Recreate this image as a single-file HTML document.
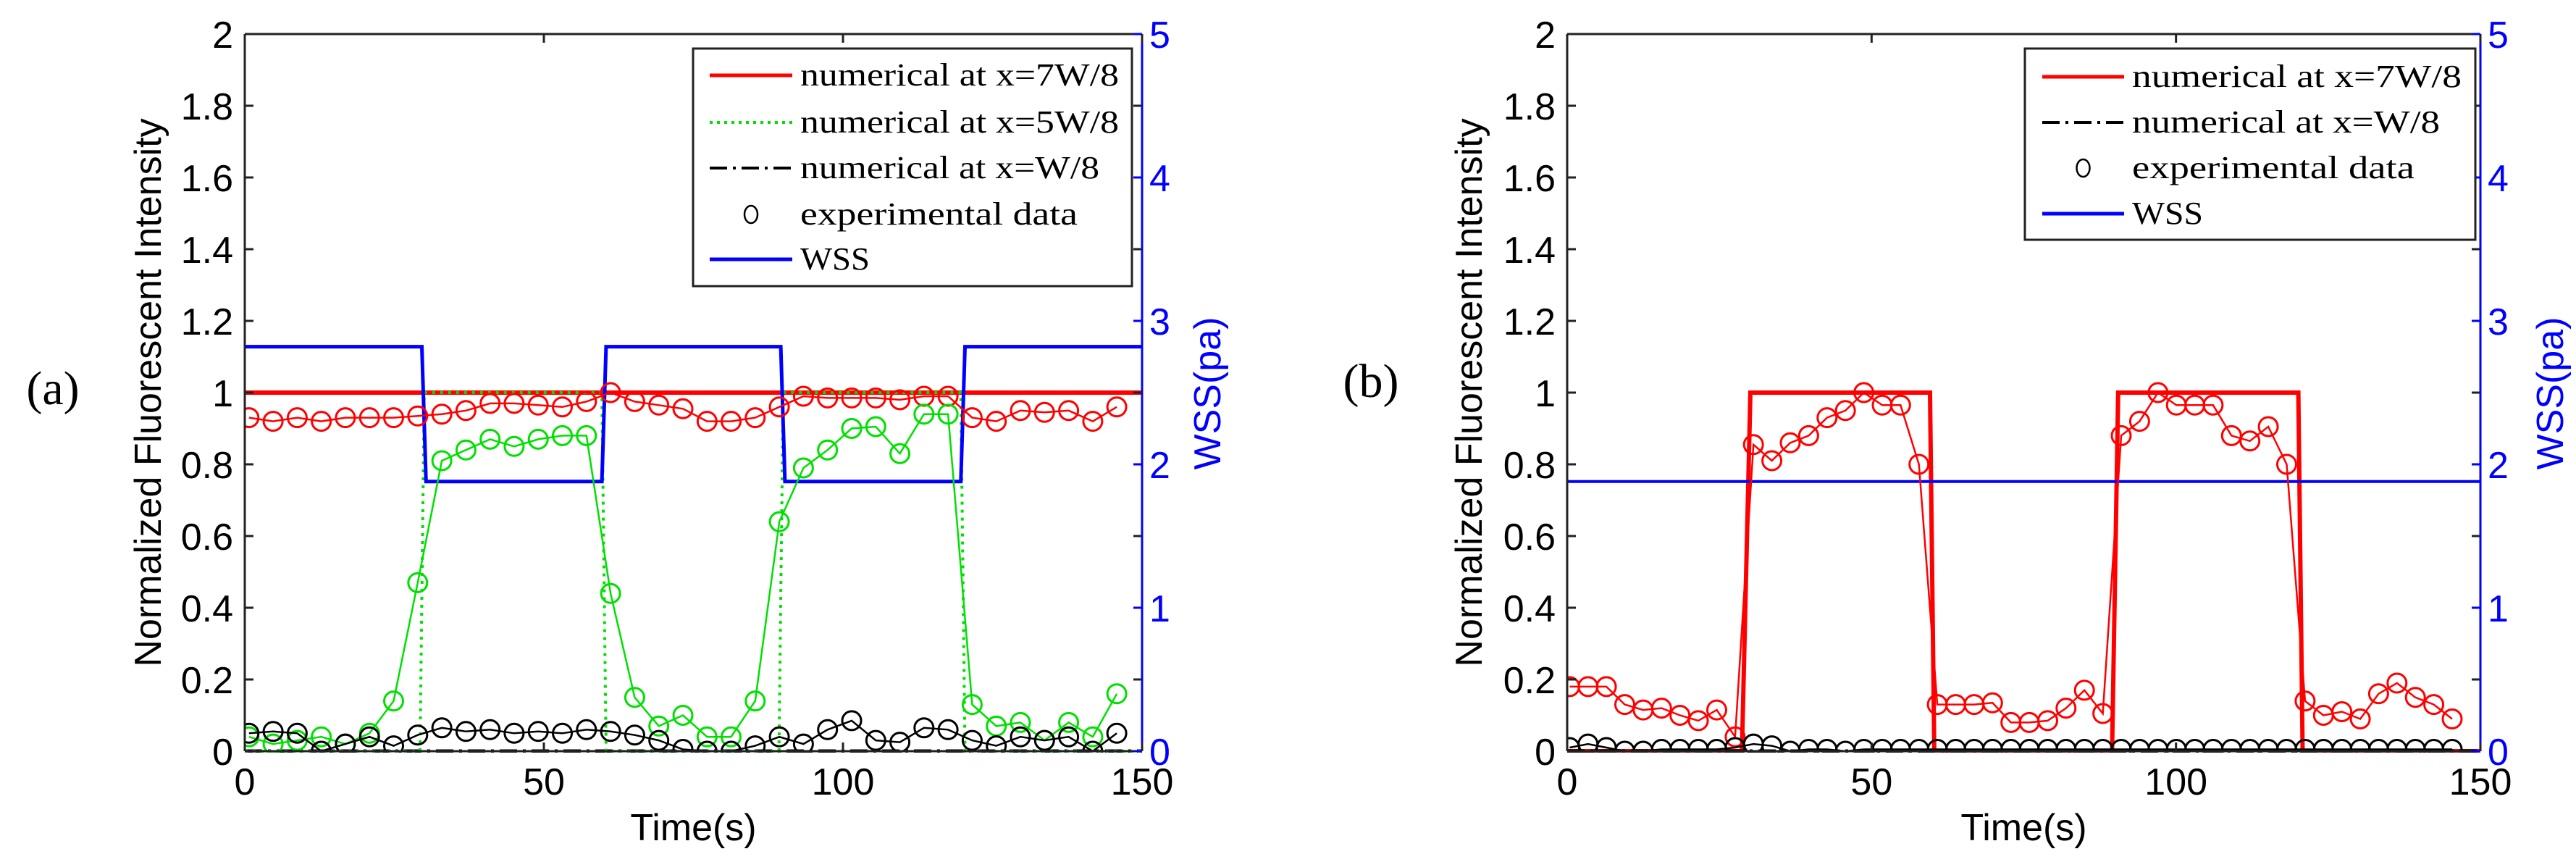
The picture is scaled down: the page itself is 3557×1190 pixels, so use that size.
<!DOCTYPE html>
<html><head><meta charset="utf-8"><style>
html,body{margin:0;padding:0;background:#fff}
svg{display:block}
text{font-family:"Liberation Sans",Arial,sans-serif}
.serif{font-family:"Liberation Serif","Times New Roman",serif}
</style></head><body>
<svg id="fig" width="3557" height="1190" viewBox="0 0 3557 1190" xmlns="http://www.w3.org/2000/svg"></svg>
<script>
// ---------- data ----------
const xTicks = [0, 50, 100, 150];
const yTicks = [0, 0.2, 0.4, 0.6, 0.8, 1, 1.2, 1.4, 1.6, 1.8, 2];
const yTickLabels = ["0","0.2","0.4","0.6","0.8","1","1.2","1.4","1.6","1.8","2"];
const y2Ticks = [0, 1, 2, 3, 4, 5];

// panel a experimental (t = 0.7 + 4.03 i)
const aRedExp = [0.93,0.92,0.93,0.92,0.93,0.93,0.93,0.935,0.94,0.95,0.97,0.97,0.965,0.96,0.975,1.0,0.975,0.965,0.955,0.92,0.92,0.93,0.96,0.99,0.985,0.985,0.985,0.98,0.99,0.99,0.93,0.92,0.95,0.945,0.95,0.92,0.96];
const aGreenExp = [0.04,0.02,0.03,0.04,0.02,0.05,0.14,0.47,0.81,0.84,0.87,0.85,0.87,0.88,0.88,0.44,0.15,0.07,0.10,0.04,0.04,0.14,0.64,0.79,0.84,0.90,0.905,0.83,0.94,0.94,0.13,0.07,0.08,0.03,0.08,0.04,0.16];
const aBlackExp = [0.05,0.055,0.05,0.0,0.02,0.04,0.015,0.045,0.065,0.055,0.06,0.05,0.055,0.05,0.06,0.055,0.045,0.03,0.005,0.0,0.0,0.015,0.04,0.02,0.06,0.085,0.03,0.025,0.065,0.06,0.03,0.015,0.04,0.03,0.04,0.0,0.05];
// panel a numerical
const aGreenNumT = [0,29.3,30.0,59.7,60.4,89.3,90.0,119.7,120.4,150];
const aGreenNumV = [0,0,1,1,0,0,1,1,0,0];
const aWssT = [0,29.6,30.3,59.7,60.4,89.6,90.3,119.7,120.4,150];
const aWssV = [2.82,2.82,1.88,1.88,2.82,2.82,1.88,1.88,2.82,2.82];

// panel b experimental (t = 0.4 + 3.02 i)
const bRedExp = [0.18,0.18,0.18,0.13,0.115,0.12,0.1,0.085,0.115,0.04,0.855,0.81,0.86,0.88,0.93,0.95,1.0,0.965,0.965,0.8,0.13,0.13,0.13,0.135,0.08,0.08,0.085,0.12,0.17,0.105,0.88,0.92,1.0,0.965,0.965,0.965,0.88,0.865,0.905,0.8,0.14,0.1,0.11,0.09,0.16,0.19,0.15,0.13,0.09];
const bBlackExp = [0.01,0.02,0.01,0.0,0.0,0.005,0.005,0.005,0.005,0.01,0.02,0.015,0.0,0.005,0.005,0.0,0.005,0.005,0.005,0.005,0.005,0.005,0.005,0.005,0.005,0.005,0.005,0.005,0.005,0.005,0.005,0.005,0.005,0.005,0.005,0.005,0.005,0.005,0.005,0.005,0.005,0.005,0.005,0.005,0.005,0.005,0.005,0.005,0.005];
const bRedNumT = [0,28.7,30.1,59.6,60.3,89.5,90.5,120.1,120.8,150];
const bRedNumV = [0,0,1,1,0,0,1,1,0,0];
const bWssT = [0,150];
const bWssV = [1.88,1.88];

// ---------- drawing ----------
const NS = "http://www.w3.org/2000/svg";
const svg = document.getElementById("fig");
function mk(tag, attrs, parent){
  const e = document.createElementNS(NS, tag);
  for (const k in attrs) e.setAttribute(k, attrs[k]);
  (parent||svg).appendChild(e);
  return e;
}

function panel(P){
  const g = mk("g", {});
  
  
  const X = t => P.x0 + (t/150)*(P.x1-P.x0);
  const Y = v => P.y1 - (v/2)*(P.y1-P.y0);
  const Y2 = v => P.y1 - (v/5)*(P.y1-P.y0);
  const clip = mk("clipPath", {id: "clip"+P.id}, g);
  mk("rect", {x:P.x0, y:P.y0-2, width:P.x1-P.x0, height:P.y1-P.y0+4}, clip);

  // series
  const sg = mk("g", {"clip-path":"url(#clip"+P.id+")"}, g);
  function line(ts, vs, yf, attrs, name){
    const pts = ts.map((t,i)=>X(t).toFixed(1)+","+yf(vs[i]).toFixed(1)).join(" ");
    const el = mk("polyline", Object.assign({points:pts, fill:"none"}, attrs), sg);
    
    
  }
  function exp(vals, t0, dt, color, name){
    const ts = vals.map((v,i)=>t0+dt*i);
    line(ts, vals, Y, {stroke:color, "stroke-width":2.5}, name+'-line');
    vals.forEach((v,i)=>{
      const c = mk("circle", {cx:X(ts[i]).toFixed(1), cy:Y(v).toFixed(1), r:13, fill:"none", stroke:color, "stroke-width":3}, sg);
      
      
    });
  }
  P.draw({line, exp, Y, Y2});

  // axes box
  const ax = mk("g", {}, g);
  
  
  mk("line",{x1:P.x0,y1:P.y0,x2:P.x1,y2:P.y0,stroke:"#222","stroke-width":3},ax);
  mk("line",{x1:P.x0,y1:P.y1,x2:P.x1,y2:P.y1,stroke:"#222","stroke-width":3},ax);
  mk("line",{x1:P.x0,y1:P.y0,x2:P.x0,y2:P.y1,stroke:"#222","stroke-width":3},ax);
  mk("line",{x1:P.x1,y1:P.y0,x2:P.x1,y2:P.y1,stroke:"#0000ff","stroke-width":3},ax);
  xTicks.forEach(t=>{
    const x = X(t);
    mk("line",{x1:x,y1:P.y1,x2:x,y2:P.y1-12,stroke:"#222","stroke-width":3},ax);
    mk("line",{x1:x,y1:P.y0,x2:x,y2:P.y0+12,stroke:"#222","stroke-width":3},ax);
    const tx = mk("text",{x:x,y:P.y1+60,"font-size":52,"text-anchor":"middle",fill:"#000"},ax);
    tx.textContent = String(t);
    
    
  });
  yTicks.forEach((v,i)=>{
    const y = Y(v);
    mk("line",{x1:P.x0,y1:y,x2:P.x0+12,y2:y,stroke:"#222","stroke-width":3},ax);
    mk("line",{x1:P.x1,y1:y,x2:P.x1-12,y2:y,stroke:"#222","stroke-width":3},ax);
    const tx = mk("text",{x:P.x0-16,y:y+19,"font-size":52,"text-anchor":"end",fill:"#000"},ax);
    tx.textContent = yTickLabels[i];
    
    
  });
  y2Ticks.forEach(v=>{
    const y = Y2(v);
    mk("line",{x1:P.x1,y1:y,x2:P.x1-12,y2:y,stroke:"#0000ff","stroke-width":3},ax);
    const tx = mk("text",{x:P.x1+10,y:y+19,"font-size":52,fill:"#0000ff"},ax);
    tx.textContent = String(v);
    
    
  });
  const xl = mk("text",{x:(P.x0+P.x1)/2,y:1160,"font-size":52,"text-anchor":"middle",fill:"#000"},g);
  xl.textContent = "Time(s)";
  
  
  const yl = mk("text",{x:0,y:0,"font-size":52,"text-anchor":"middle",fill:"#000",transform:`translate(${P.ylx},${(P.y0+P.y1)/2}) rotate(-90) translate(0,18)`},g);
  yl.textContent = "Normalized Fluorescent Intensity";
  
  
  const y2l = mk("text",{x:0,y:0,"font-size":52,"text-anchor":"middle",fill:"#0000ff",transform:`translate(${P.y2lx},543) rotate(-90) translate(0,18)`},g);
  y2l.textContent = "WSS(pa)";
  
  
  const pl = mk("text",{x:P.lblx,y:P.lbly,"font-size":66,"text-anchor":"middle",fill:"#000","class":"serif"},g);
  pl.textContent = P.label;
  
  

  // legend
  const L = P.legend;
  const lg = mk("g",{},g);
  
  
  mk("rect",{x:L.x,y:L.y,width:L.w,height:L.h,fill:"#fff",stroke:"#222","stroke-width":3},lg);
  L.items.forEach((it,i)=>{
    const y = L.rows[i];
    const eg = mk("g",{},lg);
    
    
    if (it.marker){
      mk("ellipse",{cx:(L.sx0+L.sx1)/2,cy:y,rx:9,ry:12,fill:"none",stroke:"#000","stroke-width":2.5},eg);
    } else {
      mk("line",Object.assign({x1:L.sx0,y1:y,x2:L.sx1,y2:y,stroke:it.color,"stroke-width":it.w||5},it.dash?{"stroke-dasharray":it.dash}:{}),eg);
    }
    const t = mk("text",{x:L.tx,y:y+14,"font-size":44,"class":"serif",fill:"#000",textLength:it.tl,lengthAdjust:"spacingAndGlyphs"},eg);
    t.textContent = it.text;
  });
}

panel({
  id:"a", x0:338, x1:1577, y0:47, y1:1037, ylx:204, y2lx:1667, lblx:73, lbly:558, label:"(a)",
  draw:({line,exp,Y,Y2})=>{
    line([0,150],[1,1],Y,{stroke:"#ff0000","stroke-width":6},'numerical-7w8-line');
    line([0,150],[0,0],Y,{stroke:"#000","stroke-width":5,"stroke-dasharray":"24 8 4 8"},'numerical-w8-line');
    line(aGreenNumT,aGreenNumV,Y,{stroke:"#00e000","stroke-width":4,"stroke-dasharray":"4 7"},'numerical-5w8-line');
    line(aWssT,aWssV,Y2,{stroke:"#0000ff","stroke-width":5},'wss-line');
    exp(aRedExp,0.7,4.03,"#ff0000",'exp-7w8');
    exp(aGreenExp,0.7,4.03,"#00e000",'exp-5w8');
    exp(aBlackExp,0.7,4.03,"#000",'exp-w8');
  },
  legend:{x:957,y:67,w:606,h:328,sx0:980,sx1:1094,tx:1105,rows:[104,169,232,296,358],
    items:[
      {color:"#ff0000",text:"numerical at x=7W/8",tl:440},
      {color:"#00e000",text:"numerical at x=5W/8",tl:440,dash:"4 6",w:4},
      {color:"#000",text:"numerical at x=W/8",tl:413,dash:"24 8 4 8",w:4},
      {marker:true,text:"experimental data",tl:383},
      {color:"#0000ff",text:"WSS",tl:96}
    ]}
});
panel({
  id:"b", x0:2164, x1:3425, y0:47, y1:1037, ylx:2028, y2lx:3521, lblx:1893, lbly:548, label:"(b)",
  draw:({line,exp,Y,Y2})=>{
    line(bRedNumT,bRedNumV,Y,{stroke:"#ff0000","stroke-width":6},'numerical-7w8-line');
    line([0,150],[0,0],Y,{stroke:"#000","stroke-width":5,"stroke-dasharray":"24 8 4 8"},'numerical-w8-line');
    line(bWssT,bWssV,Y2,{stroke:"#0000ff","stroke-width":4},'wss-line');
    exp(bRedExp,0.4,3.02,"#ff0000",'exp-7w8');
    exp(bBlackExp,0.4,3.02,"#000",'exp-w8');
  },
  legend:{x:2796,y:67,w:622,h:264,sx0:2820,sx1:2933,tx:2944,rows:[106,169,232,295],
    items:[
      {color:"#ff0000",text:"numerical at x=7W/8",tl:455},
      {color:"#000",text:"numerical at x=W/8",tl:425,dash:"24 8 4 8",w:4},
      {marker:true,text:"experimental data",tl:390},
      {color:"#0000ff",text:"WSS",tl:98}
    ]}
});
</script>
</body></html>
